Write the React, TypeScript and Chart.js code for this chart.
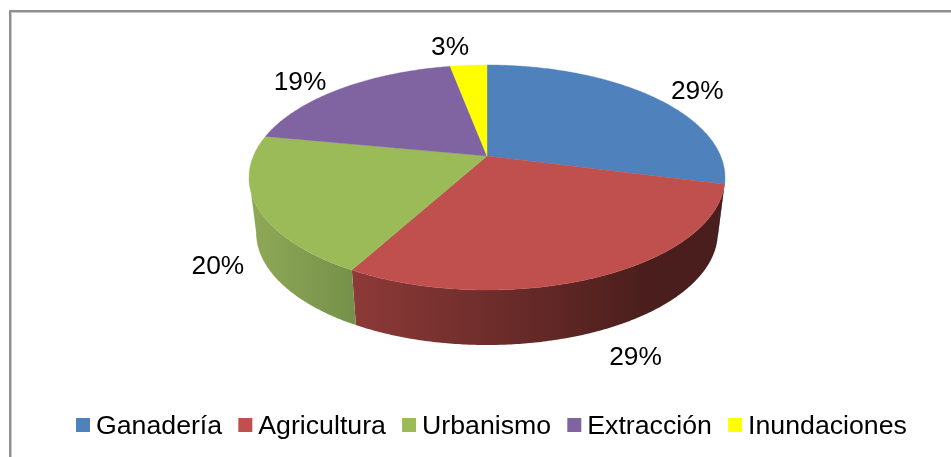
import React, { useEffect, useRef } from "react";
import { Chart, registerables } from "chart.js";

Chart.register(...registerables);

const categories = ["Ganadería", "Agricultura", "Urbanismo", "Extracción", "Inundaciones"];
const shares = [29, 29, 20, 19, 3];
const sliceColors = ["#4f81bd", "#c0504d", "#9bbb59", "#8064a2", "#ffff00"];
const labelOffsets = [[45, -5], [36, 81.5], [-39, 60.5], [-41.5, -6], [-18.5, -17.5]];
const wallStops: string[][] = [
  ["#2f4d71", "#2f4d71"],
  ["#8d3a38", "#4a1e1c"],
  ["#8fa956", "#76924a"],
  ["#4d3c61", "#4d3c61"],
  ["#999900", "#999900"],
];

const FONT = '26.3px "Liberation Sans", Arial, sans-serif';
const LEGEND_FONT = '26.7px "Liberation Sans", Arial, sans-serif';
const CX = 487;
const CY = 156;
const A = 233.6;
const B = 108.4;
const Q = 0.191;
const DEPTH = 55;
const INSET = 0.97;

// Tilted-disc projection: the disc's far side is compressed, as in a perspective 3D pie.
function rim(angle: number): [number, number] {
  const a = Math.cos(angle);
  const b = -Math.sin(angle);
  const w = 1 + Q * b;
  return [CX + (A * a) / w, CY - (B * b) / w];
}
function lowerRim(angle: number): [number, number] {
  const [x, y] = rim(angle);
  return [CX + (x - CX) * INSET, y + DEPTH];
}
function samples(start: number, end: number): number[] {
  const n = Math.max(2, Math.ceil((end - start) / 0.01));
  const out: number[] = [];
  for (let i = 0; i <= n; i++) out.push(start + ((end - start) * i) / n);
  return out;
}

const pie3d = {
  id: "pie3d",
  beforeDraw(chart: any) {
    const { ctx, width, height } = chart;
    ctx.save();
    ctx.fillStyle = "#ffffff";
    ctx.fillRect(0, 0, width, height);
    ctx.fillStyle = "#8f8f8f";
    ctx.fillRect(9, 10, width - 9, 2);
    ctx.fillRect(9, 10, 2, height - 10);
    ctx.fillStyle = "#c8c8c8";
    ctx.fillRect(11, 12, width - 11, 1);
    ctx.fillRect(11, 12, 1, height - 12);
    ctx.restore();
  },
  beforeDatasetsDraw(chart: any) {
    const { ctx } = chart;
    const arcs = chart.getDatasetMeta(0).data;
    // The wall is visible only on the near part of the rim.
    const wallFrom = Math.asin(Q);
    const wallTo = Math.PI - wallFrom;
    ctx.save();
    arcs.forEach((arc: any, i: number) => {
      const s = Math.max(arc.startAngle, wallFrom);
      const e = Math.min(arc.endAngle, wallTo);
      if (e <= s) return;
      const pts = samples(s, e);
      const xs = pts.map((p) => rim(p)[0]);
      const grad = ctx.createLinearGradient(Math.min(...xs), 0, Math.min(Math.max(...xs), 650), 0);
      grad.addColorStop(0, wallStops[i][0]);
      grad.addColorStop(1, wallStops[i][1]);
      ctx.beginPath();
      pts.forEach((p, k) => {
        const [x, y] = rim(p);
        if (k === 0) ctx.moveTo(x, y);
        else ctx.lineTo(x, y);
      });
      [...pts].reverse().forEach((p) => {
        const [x, y] = lowerRim(p);
        ctx.lineTo(x, y);
      });
      ctx.closePath();
      ctx.fillStyle = grad;
      ctx.fill();
    });
    arcs.forEach((arc: any, i: number) => {
      ctx.beginPath();
      ctx.moveTo(CX, CY);
      samples(arc.startAngle, arc.endAngle).forEach((p) => {
        const [x, y] = rim(p);
        ctx.lineTo(x, y);
      });
      ctx.closePath();
      ctx.fillStyle = sliceColors[i];
      ctx.strokeStyle = sliceColors[i];
      ctx.lineWidth = 0.4;
      ctx.fill();
      ctx.stroke();
    });
    ctx.restore();
    return false;
  },
  afterDraw(chart: any) {
    const { ctx } = chart;
    const arcs = chart.getDatasetMeta(0).data;
    ctx.save();
    ctx.font = FONT;
    ctx.fillStyle = "#000000";
    ctx.textBaseline = "middle";
    ctx.textAlign = "center";
    arcs.forEach((arc: any, i: number) => {
      const [x, y] = rim((arc.startAngle + arc.endAngle) / 2);
      ctx.fillText(shares[i] + "%", x + labelOffsets[i][0], y + labelOffsets[i][1]);
    });
    // Legend row
    ctx.font = LEGEND_FONT;
    ctx.textAlign = "left";
    let lx = 76;
    categories.forEach((name, i) => {
      ctx.fillStyle = sliceColors[i];
      ctx.fillRect(lx, 418, 14, 14);
      ctx.fillStyle = "#000000";
      ctx.fillText(name, lx + 20, 426.5);
      lx += 20 + ctx.measureText(name).width + 16.2;
    });
    ctx.restore();
  },
};

export default function App() {
  const ref = useRef<HTMLCanvasElement>(null);
  useEffect(() => {
    document.body.style.margin = "0";
    const chart = new Chart(ref.current as HTMLCanvasElement, {
      type: "pie",
      data: {
        labels: categories,
        datasets: [{ data: shares, backgroundColor: sliceColors, borderWidth: 0 }],
      },
      options: {
        animation: false,
        responsive: false,
        plugins: { legend: { display: false }, tooltip: { enabled: false } },
      },
      plugins: [pie3d],
    } as any);
    return () => chart.destroy();
  }, []);
  return <canvas ref={ref} width={951} height={457} style={{ display: "block" }} />;
}
